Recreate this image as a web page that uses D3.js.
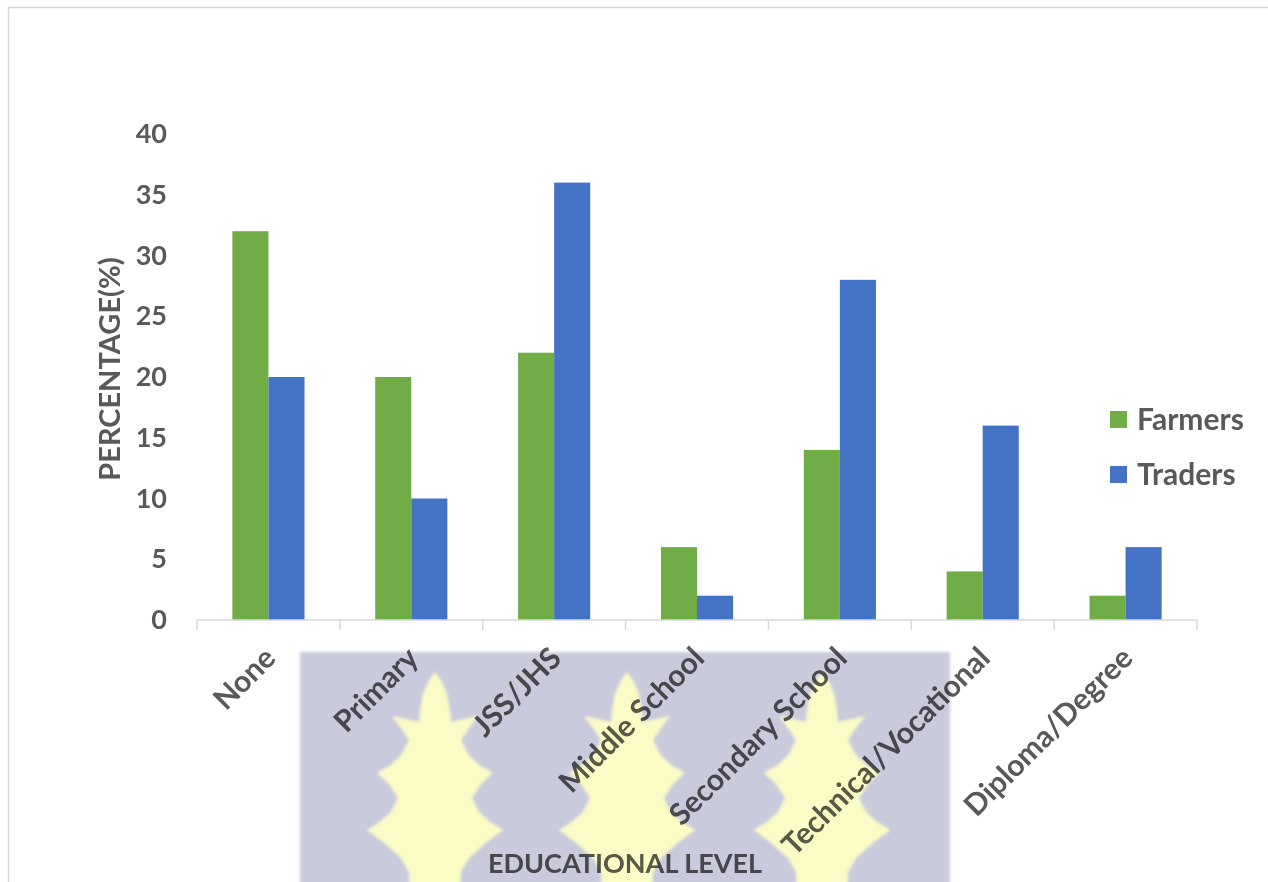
<!DOCTYPE html>
<html>
<head>
<meta charset="utf-8">
<script src="https://cdn.jsdelivr.net/npm/d3@7"></script>
<style>
  html, body { margin: 0; padding: 0; background: #fff; }
  text { font-family: Lato, "Open Sans", sans-serif; font-weight: bold; fill: #595959; mix-blend-mode: multiply; }
</style>
</head>
<body>
<div id="chart"></div>
<script>
// data
var levels = ["None", "Primary", "JSS/JHS", "Middle School", "Secondary School", "Technical/Vocational", "Diploma/Degree"];
var farmers = [32, 20, 22, 6, 14, 4, 2];
var traders = [20, 10, 36, 2, 28, 16, 6];
var seriesNames = ["Farmers", "Traders"];
var seriesColors = ["#70AD47", "#4472C4"];
var yTicks = [0, 5, 10, 15, 20, 25, 30, 35, 40];

function main(){
  var W = 1268, H = 882;
  var margin = {top: 134, right: 71, bottom: 262, left: 197},
      width = W - margin.left - margin.right,
      height = H - margin.top - margin.bottom;

  var root = d3.select("#chart").append("svg")
    .attr("width", W)
    .attr("height", H);

  // outer chart border (only top/left visible in the picture)
  root.append("rect")
    .attr("x", 8.5).attr("y", 7.5)
    .attr("width", 1400).attr("height", 1000)
    .attr("fill", "none")
    .attr("stroke", "#d9d9d9")
    .attr("stroke-width", 1.5);

  // the watermark behind the lower part of the chart
  var defs = root.append("defs");
  defs.append("filter").attr("id", "soft")
    .append("feGaussianBlur").attr("stdDeviation", 1.6);
  var wm = root.append("g").attr("filter", "url(#soft)");
  wm.append("rect")
    .attr("x", 300).attr("y", 652)
    .attr("width", 650).attr("height", 240)
    .attr("fill", "#c9cadb");
  // one leaf, relative to its tip
  var half = [[0,0],[7,10],[12,22],[15,38],[16,50],[30,47],[43,44],[34,56],[26,68],[33,82],[44,93],[58,101],[46,112],[37,126],[44,140],[55,150],[68,158],[52,170],[34,186],[26,200],[25,230]];
  var leafPts = half.concat(half.slice().reverse().map(function(p){ return [-p[0], p[1]]; }));
  var leafLine = d3.line().curve(d3.curveLinearClosed);
  [435, 627, 822].forEach(function(cx){
    wm.append("path")
      .attr("transform", "translate(" + cx + ",672)")
      .attr("d", leafLine(leafPts))
      .attr("fill", "#fbfbc6");
  });

  var svg = root.append("g")
    .attr("transform", "translate(" + margin.left + "," + margin.top + ")");

  // scales
  var x0 = d3.scaleBand()
    .domain(levels)
    .range([0, width])
    .paddingInner(0.495)
    .paddingOuter(0.2475);

  var x1 = d3.scaleBand()
    .domain(seriesNames)
    .range([0, x0.bandwidth()]);

  var y = d3.scaleLinear()
    .domain([0, 40])
    .range([height, 0]);

  var rows = levels.map(function(l, i){
    return {level: l, values: [farmers[i], traders[i]]};
  });

  // bars
  var groups = svg.append("g")
    .selectAll("g")
    .data(rows)
    .enter()
    .append("g")
      .attr("transform", function(d){ return "translate(" + x0(d.level) + ",0)"; });

  groups.selectAll("rect")
    .data(function(d){ return d.values.map(function(v, j){ return {name: seriesNames[j], value: v, color: seriesColors[j]}; }); })
    .enter()
    .append("rect")
      .attr("x", function(d){ return x1(d.name); })
      .attr("y", function(d){ return y(d.value); })
      .attr("width", x1.bandwidth())
      .attr("height", function(d){ return height - y(d.value); })
      .attr("fill", function(d){ return d.color; });

  // y axis labels (no line, no ticks)
  var yAxis = svg.append("g")
    .call(d3.axisLeft(y).tickValues(yTicks).tickSize(0).tickPadding(30));
  yAxis.select(".domain").remove();
  yAxis.selectAll("text")
    .attr("font-size", "27px")
    .attr("font-family", null)
    .style("fill", "#595959");

  // x axis: line with ticks at category boundaries
  var xg = svg.append("g").attr("transform", "translate(0," + height + ")");
  xg.append("line")
    .attr("x1", 0).attr("x2", width)
    .attr("stroke", "#d9d9d9").attr("stroke-width", 1.5);
  var bounds = levels.map(function(l){ return x0(l) - (x0.step() - x0.bandwidth()) / 2; }).concat([width]);
  xg.selectAll(".tk")
    .data(bounds)
    .enter()
    .append("line")
      .attr("class", "tk")
      .attr("x1", function(d){ return d; })
      .attr("x2", function(d){ return d; })
      .attr("y1", 0).attr("y2", 10)
      .attr("stroke", "#d9d9d9").attr("stroke-width", 1.5);

  xg.selectAll(".lbl")
    .data(levels)
    .enter()
    .append("text")
      .attr("class", "lbl")
      .attr("transform", function(d){
        return "translate(" + (x0(d) + x0.bandwidth() / 2 + 9) + ",40) rotate(-45)";
      })
      .attr("text-anchor", "end")
      .attr("font-size", "30px")
      .text(function(d){ return d; });

  // axis titles
  svg.append("text")
    .attr("transform", "translate(-77," + (height / 2 - 8) + ") rotate(-90)")
    .attr("text-anchor", "middle")
    .attr("font-size", "29px")
    .text("PERCENTAGE(%)");

  svg.append("text")
    .attr("x", 428)
    .attr("y", 739)
    .attr("text-anchor", "middle")
    .attr("font-size", "27px")
    .text("EDUCATIONAL LEVEL");

  // legend
  var legend = svg.append("g")
    .attr("transform", "translate(" + (width - 87) + ",277)");
  var items = legend.selectAll("g")
    .data(seriesNames)
    .enter()
    .append("g")
      .attr("transform", function(d, i){ return "translate(0," + (i * 55) + ")"; });
  items.append("rect")
    .attr("width", 17).attr("height", 17)
    .attr("fill", function(d, i){ return seriesColors[i]; });
  items.append("text")
    .attr("x", 27)
    .attr("y", 8.5)
    .attr("dy", "0.36em")
    .attr("font-size", "30px")
    .text(function(d){ return d; });
}
main();
</script>
</body>
</html>
